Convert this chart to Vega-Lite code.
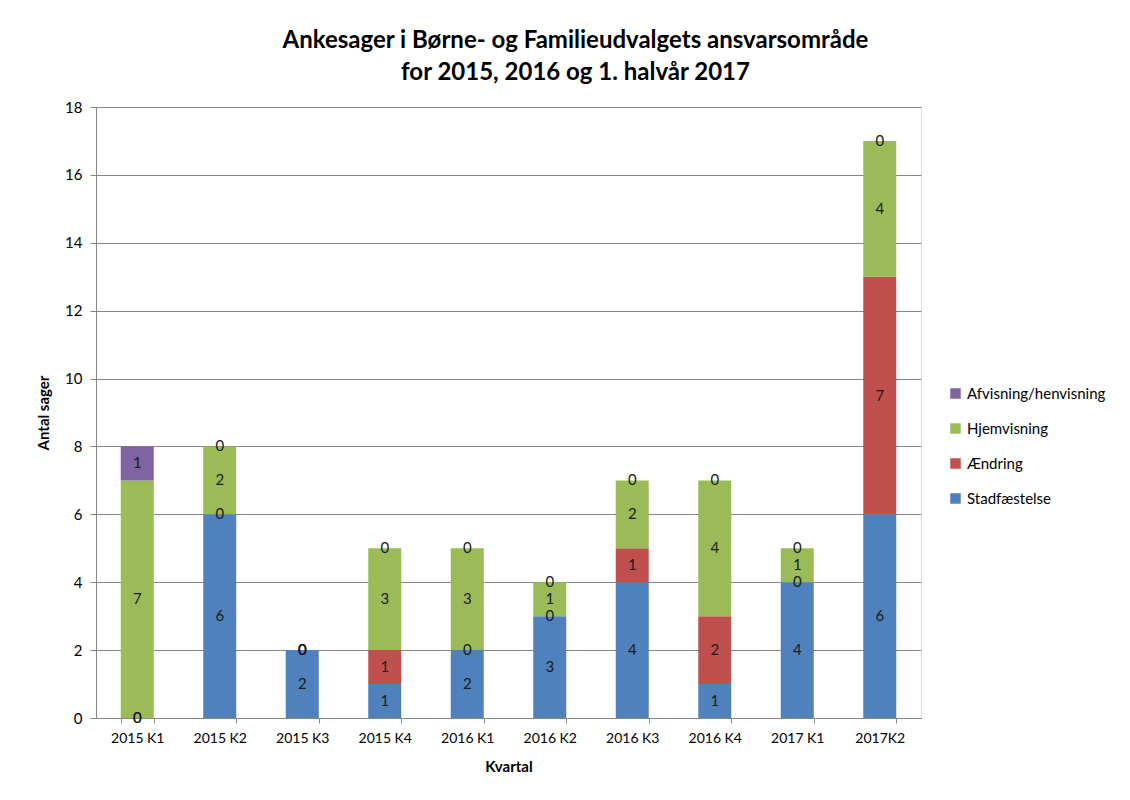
{
  "$schema": "https://vega.github.io/schema/vega-lite/v6.json",
  "autosize": {"type": "none"},
  "padding": {"left": 96, "top": 107, "right": 209, "bottom": 82},
  "width": 825,
  "height": 611,
  "background": "white",
  "title": {
    "text": ["Ankesager i Børne- og Familieudvalgets ansvarsområde", "for 2015, 2016 og 1. halvår 2017"],
    "font": "Lato",
    "fontSize": 24,
    "fontWeight": "bold",
    "color": "#000000",
    "anchor": "middle",
    "dx": 67,
    "offset": 15,
    "lineHeight": 32
  },
  "data": {
    "values": [
      {"kvartal": "2015 K1", "serie": "Stadfæstelse", "antal": 0},
      {"kvartal": "2015 K1", "serie": "Ændring", "antal": 0},
      {"kvartal": "2015 K1", "serie": "Hjemvisning", "antal": 7},
      {"kvartal": "2015 K1", "serie": "Afvisning/henvisning", "antal": 1},
      {"kvartal": "2015 K2", "serie": "Stadfæstelse", "antal": 6},
      {"kvartal": "2015 K2", "serie": "Ændring", "antal": 0},
      {"kvartal": "2015 K2", "serie": "Hjemvisning", "antal": 2},
      {"kvartal": "2015 K2", "serie": "Afvisning/henvisning", "antal": 0},
      {"kvartal": "2015 K3", "serie": "Stadfæstelse", "antal": 2},
      {"kvartal": "2015 K3", "serie": "Ændring", "antal": 0},
      {"kvartal": "2015 K3", "serie": "Hjemvisning", "antal": 0},
      {"kvartal": "2015 K3", "serie": "Afvisning/henvisning", "antal": 0},
      {"kvartal": "2015 K4", "serie": "Stadfæstelse", "antal": 1},
      {"kvartal": "2015 K4", "serie": "Ændring", "antal": 1},
      {"kvartal": "2015 K4", "serie": "Hjemvisning", "antal": 3},
      {"kvartal": "2015 K4", "serie": "Afvisning/henvisning", "antal": 0},
      {"kvartal": "2016 K1", "serie": "Stadfæstelse", "antal": 2},
      {"kvartal": "2016 K1", "serie": "Ændring", "antal": 0},
      {"kvartal": "2016 K1", "serie": "Hjemvisning", "antal": 3},
      {"kvartal": "2016 K1", "serie": "Afvisning/henvisning", "antal": 0},
      {"kvartal": "2016 K2", "serie": "Stadfæstelse", "antal": 3},
      {"kvartal": "2016 K2", "serie": "Ændring", "antal": 0},
      {"kvartal": "2016 K2", "serie": "Hjemvisning", "antal": 1},
      {"kvartal": "2016 K2", "serie": "Afvisning/henvisning", "antal": 0},
      {"kvartal": "2016 K3", "serie": "Stadfæstelse", "antal": 4},
      {"kvartal": "2016 K3", "serie": "Ændring", "antal": 1},
      {"kvartal": "2016 K3", "serie": "Hjemvisning", "antal": 2},
      {"kvartal": "2016 K3", "serie": "Afvisning/henvisning", "antal": 0},
      {"kvartal": "2016 K4", "serie": "Stadfæstelse", "antal": 1},
      {"kvartal": "2016 K4", "serie": "Ændring", "antal": 2},
      {"kvartal": "2016 K4", "serie": "Hjemvisning", "antal": 4},
      {"kvartal": "2016 K4", "serie": "Afvisning/henvisning", "antal": 0},
      {"kvartal": "2017 K1", "serie": "Stadfæstelse", "antal": 4},
      {"kvartal": "2017 K1", "serie": "Ændring", "antal": 0},
      {"kvartal": "2017 K1", "serie": "Hjemvisning", "antal": 1},
      {"kvartal": "2017 K1", "serie": "Afvisning/henvisning", "antal": 0},
      {"kvartal": "2017K2", "serie": "Stadfæstelse", "antal": 6},
      {"kvartal": "2017K2", "serie": "Ændring", "antal": 7},
      {"kvartal": "2017K2", "serie": "Hjemvisning", "antal": 4},
      {"kvartal": "2017K2", "serie": "Afvisning/henvisning", "antal": 0}
    ]
  },
  "transform": [
    {"calculate": "indexof(['Stadfæstelse','Ændring','Hjemvisning','Afvisning/henvisning'], datum.serie)", "as": "rk"},
    {"stack": "antal", "groupby": ["kvartal"], "sort": [{"field": "rk", "order": "ascending"}], "as": ["y0", "y1"]},
    {"calculate": "(datum.y0 + datum.y1) / 2", "as": "ymid"}
  ],
  "encoding": {
    "x": {
      "field": "kvartal",
      "type": "nominal",
      "sort": null,
      "scale": {"paddingInner": 0.6, "paddingOuter": 0.3},
      "axis": {
        "title": "Kvartal",
        "titleFont": "Lato",
        "titleFontSize": 15,
        "titleFontWeight": "bold",
        "titleColor": "#000000",
        "titlePadding": 14,
        "labelAngle": 0,
        "labelFont": "Lato",
        "labelFontSize": 14,
        "labelColor": "#000000",
        "labelPadding": 8,
        "domainColor": "#868686",
        "tickColor": "#868686",
        "tickBand": "extent",
        "tickSize": 5,
        "grid": false
      }
    }
  },
  "layer": [
    {
      "mark": {"type": "bar"},
      "encoding": {
        "y": {
          "field": "y0",
          "type": "quantitative",
          "scale": {"domain": [0, 18]},
          "axis": {
            "title": "Antal sager",
            "titleFont": "Lato",
            "titleFontSize": 15,
            "titleFontWeight": "bold",
            "titleColor": "#000000",
            "titlePadding": 13,
            "values": [0, 2, 4, 6, 8, 10, 12, 14, 16, 18],
            "labelFont": "Lato",
            "labelFontSize": 15,
            "labelColor": "#000000",
            "labelPadding": 8,
            "domainColor": "#868686",
            "tickColor": "#868686",
            "tickSize": 6,
            "gridColor": "#868686",
            "gridWidth": 1
          }
        },
        "y2": {"field": "y1"},
        "color": {
          "field": "serie",
          "type": "nominal",
          "scale": {
            "domain": ["Afvisning/henvisning", "Hjemvisning", "Ændring", "Stadfæstelse"],
            "range": ["#8064A2", "#9BBB59", "#C0504D", "#4F81BD"]
          },
          "legend": {
            "title": null,
            "orient": "none",
            "legendX": 852,
            "legendY": 279,
            "symbolType": "square",
            "symbolSize": 110,
            "symbolStrokeWidth": 0,
            "labelFont": "Lato",
            "labelFontSize": 15,
            "labelColor": "#000000",
            "rowPadding": 19,
            "labelOffset": 4
          }
        }
      }
    },
    {
      "mark": {"type": "text", "font": "Lato", "fontSize": 15, "color": "#1a1a1a", "baseline": "middle"},
      "encoding": {
        "y": {"field": "ymid", "type": "quantitative"},
        "text": {"field": "antal", "type": "quantitative"}
      }
    }
  ]
}
